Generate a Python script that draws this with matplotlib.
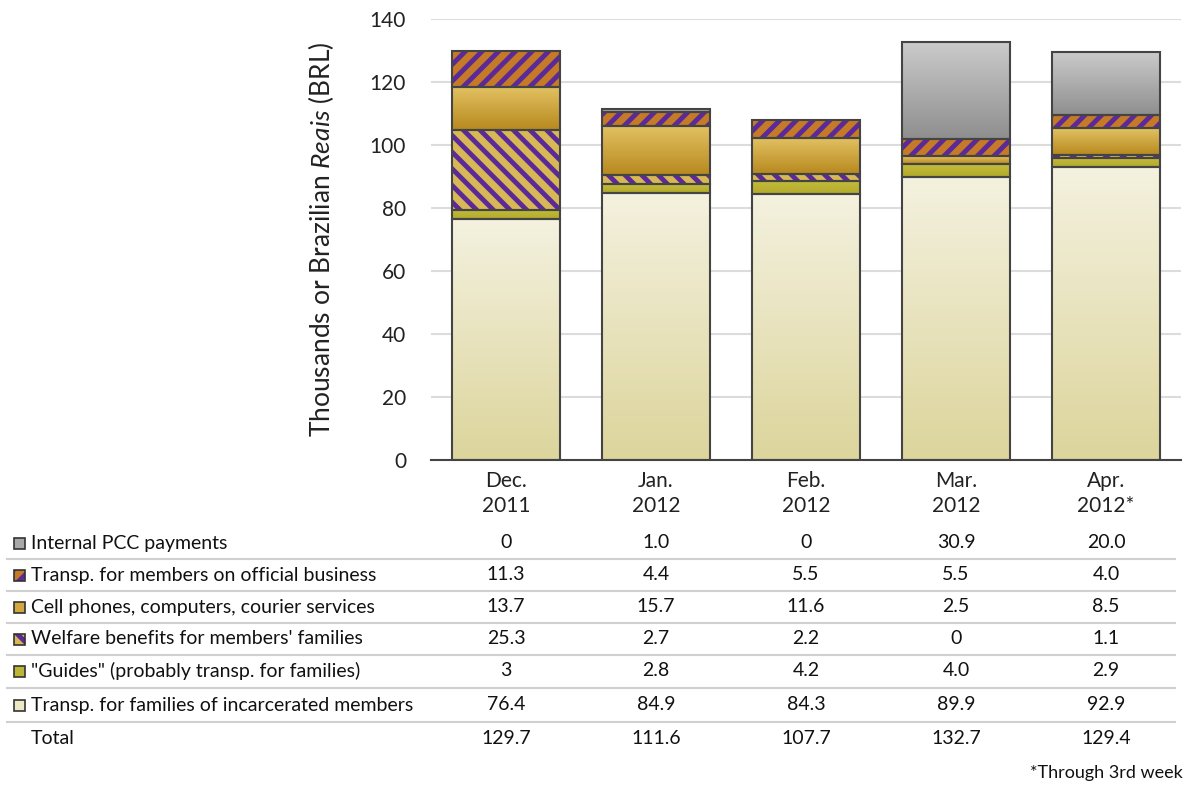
import matplotlib.pyplot as plt
import matplotlib.transforms as mtransforms
from matplotlib.lines import Line2D
from matplotlib.patches import Rectangle
import numpy as np

plt.rcParams['font.family'] = ['Lato', 'DejaVu Sans']
plt.rcParams['mathtext.fontset'] = 'custom'
plt.rcParams['mathtext.it'] = 'Lato:italic'
plt.rcParams['mathtext.rm'] = 'Lato'
plt.rcParams['hatch.linewidth'] = 3.5

months = ["Dec.\n2011", "Jan.\n2012", "Feb.\n2012", "Mar.\n2012", "Apr.\n2012*"]

# bottom to top
families = [76.4, 84.9, 84.3, 89.9, 92.9]
guides = [3, 2.8, 4.2, 4.0, 2.9]
welfare = [25.3, 2.7, 2.2, 0, 1.1]
phones = [13.7, 15.7, 11.6, 2.5, 8.5]
official = [11.3, 4.4, 5.5, 5.5, 4.0]
internal = [0, 1.0, 0, 30.9, 20.0]
totals = [129.7, 111.6, 107.7, 132.7, 129.4]

family_txt = ["76.4", "84.9", "84.3", "89.9", "92.9"]
guides_txt = ["3", "2.8", "4.2", "4.0", "2.9"]
welfare_txt = ["25.3", "2.7", "2.2", "0", "1.1"]
phones_txt = ["13.7", "15.7", "11.6", "2.5", "8.5"]
official_txt = ["11.3", "4.4", "5.5", "5.5", "4.0"]
internal_txt = ["0", "1.0", "0", "30.9", "20.0"]
total_txt = ["129.7", "111.6", "107.7", "132.7", "129.4"]

# (name, values, texts, gradient top, gradient bottom, hatch, hatch color, legend colour)
series = [
    ("Transp. for families of incarcerated members", families, family_txt, "#f4f1df", "#dcd59c", None, None, "#ece7c4"),
    ('"Guides" (probably transp. for families)', guides, guides_txt, "#c4bc3c", "#b3aa2c", None, None, "#bdb535"),
    ("Welfare benefits for members' families", welfare, welfare_txt, "#d8b855", "#d8b855", "\\\\", "#5b2a98", None),
    ("Cell phones, computers, courier services", phones, phones_txt, "#e2c262", "#b8891f", None, None, "#d4a840"),
    ("Transp. for members on official business", official, official_txt, "#c47a26", "#c47a26", "//", "#5b2a98", None),
    ("Internal PCC payments", internal, internal_txt, "#cbcbcb", "#8f8f8f", None, None, "#a8a8a8"),
]

fig = plt.figure(figsize=(11.92, 7.87), dpi=100)
ax = fig.add_axes([0.3616, 0.4155, 0.6292, 0.5604])

x = np.arange(len(months))
width = 0.72
bottom = np.zeros(len(months))
for name, vals, txt, ctop, cbot, hatch, hcol, lcol in series:
    vals = np.array(vals, dtype=float)
    for i in range(len(months)):
        if vals[i] <= 0:
            continue
        x0 = x[i] - width / 2
        y0 = bottom[i]
        if hatch:
            ax.bar(x[i], vals[i], width, bottom=y0, color=ctop, hatch=hatch,
                   edgecolor=hcol, linewidth=0, zorder=2)
        else:
            grad = np.linspace(0, 1, 64).reshape(-1, 1)
            c1 = np.array(plt.matplotlib.colors.to_rgb(cbot))
            c2 = np.array(plt.matplotlib.colors.to_rgb(ctop))
            img = c1 + (c2 - c1) * grad[:, :, None]
            im = ax.imshow(img, extent=[x0, x0 + width, y0, y0 + vals[i]],
                           origin='lower', aspect='auto', zorder=2)
            rect = Rectangle((x0, y0), width, vals[i], transform=ax.transData)
            im.set_clip_path(rect)
        ax.add_patch(Rectangle((x0, y0), width, vals[i], fill=False,
                               edgecolor="#444444", linewidth=1.5, zorder=3))
    bottom += vals

ax.set_xlim(-0.5, len(months) - 0.5)
ax.set_ylim(0, 140)
ax.set_yticks(range(0, 141, 20))
ax.tick_params(axis='y', length=0, labelsize=15, pad=18, colors="#222222")
ax.tick_params(axis='x', length=0, labelsize=15, pad=8, colors="#222222")
ax.set_xticks(x)
ax.set_xticklabels(months, linespacing=1.3)
ax.yaxis.grid(True, color="#dcdcdc", linewidth=1.5, zorder=0)
ax.set_axisbelow(True)
for s in ['top', 'right', 'left']:
    ax.spines[s].set_visible(False)
ax.spines['bottom'].set_color("#444444")
ax.spines['bottom'].set_linewidth(1.5)
ax.set_ylabel(r"Thousands or Brazilian $\it{Reais}$ (BRL)", fontsize=19, labelpad=24, color="#222222")

# data table under the chart
trans = mtransforms.blended_transform_factory(ax.transData, fig.transFigure)
row_y = [543, 575, 607, 639, 671, 705, 738]
rows = list(reversed(series))
for k, (name, vals, txt, ctop, cbot, hatch, hcol, lcol) in enumerate(rows):
    yf = 1 - row_y[k] / 787
    fig.text(31 / 1192, yf, name, fontsize=14, va='center', ha='left', color="#111111")
    box = (14 / 1192, yf - 5.5 / 787)
    if hatch:
        fig.patches.append(Rectangle(box, 11 / 1192, 11 / 787, transform=fig.transFigure,
                                     facecolor=ctop, edgecolor=hcol, linewidth=0, hatch=hatch))
    else:
        fig.patches.append(Rectangle(box, 11 / 1192, 11 / 787, transform=fig.transFigure,
                                     facecolor=lcol, linewidth=0))
    fig.patches.append(Rectangle(box, 11 / 1192, 11 / 787, transform=fig.transFigure,
                                 fill=False, edgecolor="#333333", linewidth=1.2))
    for i in range(len(months)):
        fig.text(x[i], yf, txt[i], transform=trans, fontsize=14, ha='center', va='center', color="#111111")

yf = 1 - row_y[-1] / 787
fig.text(31 / 1192, yf, "Total", fontsize=14, va='center', ha='left', color="#111111")
for i in range(len(months)):
    fig.text(x[i], yf, total_txt[i], transform=trans, fontsize=14, ha='center', va='center', color="#111111")

for k in range(len(row_y) - 1):
    yl = 1 - (row_y[k] + row_y[k + 1]) / 2 / 787
    fig.add_artist(Line2D([7 / 1192, 1175 / 1192], [yl, yl], transform=fig.transFigure,
                          color="#d0d0d0", linewidth=1.5))

fig.text(1183 / 1192, 1 - 773 / 787, "*Through 3rd week", fontsize=13, ha='right', va='center', color="#111111")

fig.savefig("out.png", dpi=100)
